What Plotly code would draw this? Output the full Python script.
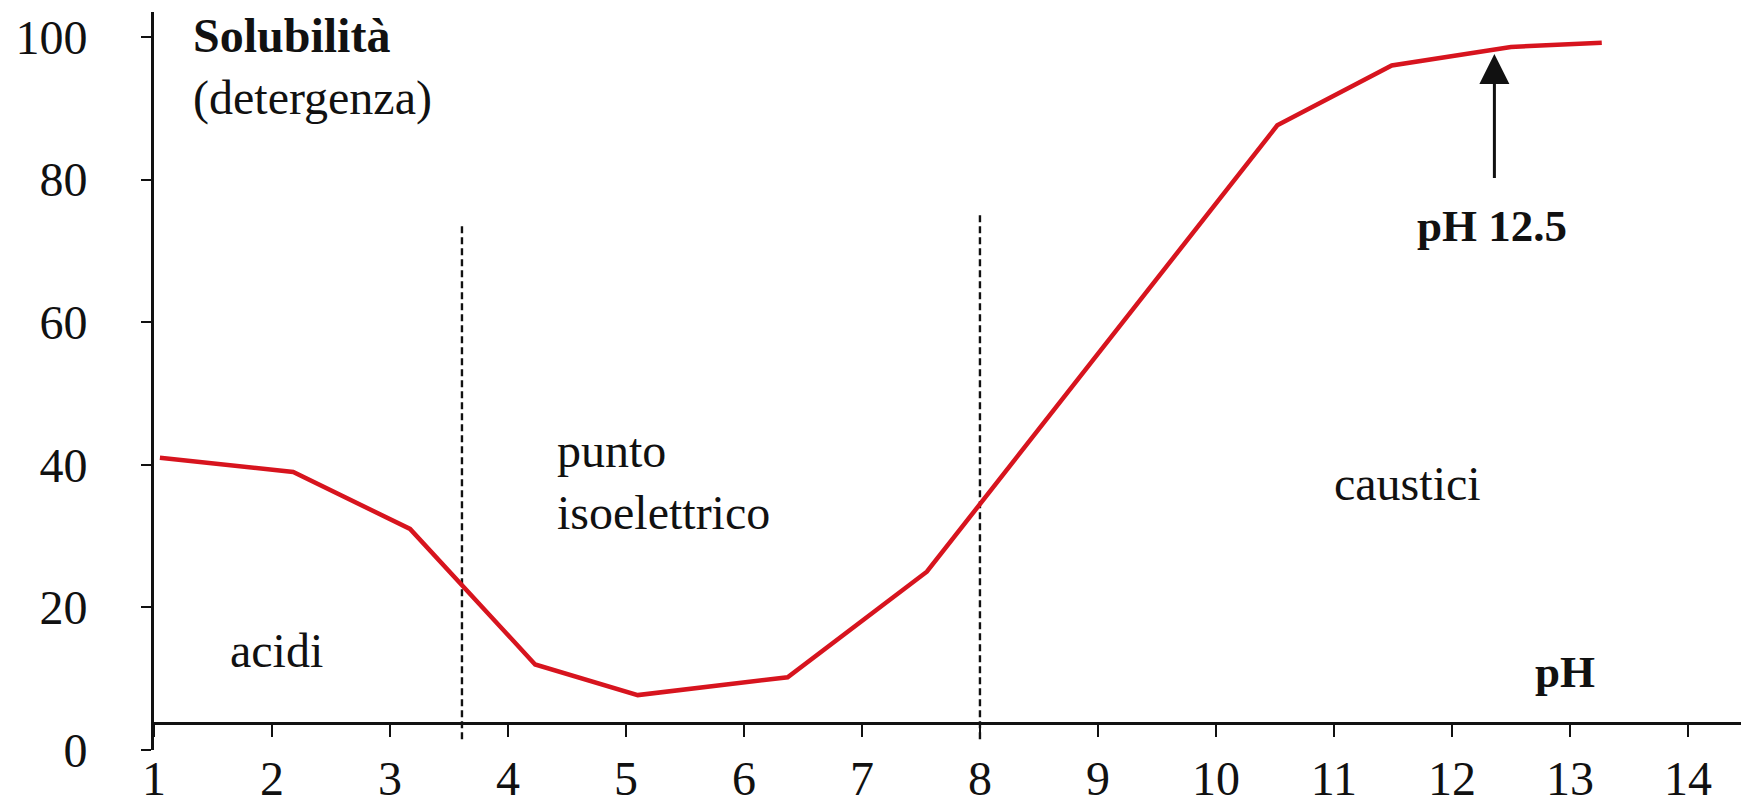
import plotly.graph_objects as go

# ---- data ----
ph = [1.05, 2.18, 3.17, 4.23, 5.10, 6.37, 7.55, 10.52, 11.49, 12.50, 13.27]
solubilita = [41.0, 39.0, 31.0, 12.0, 7.7, 10.2, 25.0, 87.6, 96.0, 98.6, 99.2]

x_ticks = list(range(1, 15))
y_ticks = [0, 20, 40, 60, 80, 100]

boundary_ph = [3.61, 8.0]
boundary_top = [74.0, 75.4]
boundary_bottom = 1.5

region_text = ["acidi", "punto<br>isoelettrico", "caustici"]
region_x = [2.04, 4.40, 11.62]
region_y = [14.0, 37.6, 37.4]
region_anchor = ["center", "left", "center"]

arrow_ph = 12.36
arrow_tip = 97.6
arrow_tail = 80.0
arrow_label = "pH 12.5"
arrow_label_y = 73.5

FONT = "Liberation Serif, Times New Roman, serif"
INK = "#111111"
RED = "#d7141e"

fig = go.Figure()

# dashed region boundaries
for bx, bt in zip(boundary_ph, boundary_top):
    fig.add_trace(go.Scatter(
        x=[bx, bx], y=[boundary_bottom, bt], mode="lines",
        line=dict(color=INK, width=2.4, dash="7px,4px"),
        hoverinfo="skip", showlegend=False))

# solubility curve
fig.add_trace(go.Scatter(
    x=ph, y=solubilita, mode="lines",
    line=dict(color=RED, width=4.5),
    name="Solubilità", showlegend=False))

ann = []
ann.append(dict(x=1.31, y=95.8, xref="x", yref="y",
                text="<b>Solubilità</b><br>(detergenza)",
                showarrow=False, xanchor="left", yanchor="middle", align="left",
                font=dict(family=FONT, size=48, color=INK)))
for t, xx, yy, anc in zip(region_text, region_x, region_y, region_anchor):
    ann.append(dict(x=xx, y=yy, xref="x", yref="y", text=t, showarrow=False,
                    xanchor=anc, yanchor="middle", align="left",
                    font=dict(family=FONT, size=48, color=INK)))
ann.append(dict(x=12.96, y=11.0, xref="x", yref="y", text="<b>pH</b>",
                showarrow=False, xanchor="center", yanchor="middle",
                font=dict(family=FONT, size=45, color=INK)))
ann.append(dict(x=12.34, y=arrow_label_y, xref="x", yref="y",
                text="<b>" + arrow_label + "</b>",
                showarrow=False, xanchor="center", yanchor="middle",
                font=dict(family=FONT, size=45, color=INK)))
ann.append(dict(x=arrow_ph, y=arrow_tip, xref="x", yref="y",
                ax=arrow_ph, ay=arrow_tail, axref="x", ayref="y",
                text="", showarrow=True, arrowhead=2, arrowsize=2,
                arrowwidth=3, arrowcolor=INK, standoff=0))

fig.update_layout(
    width=1746, height=796,
    margin=dict(l=146, r=13, t=4, b=54, autoexpand=False),
    paper_bgcolor="white", plot_bgcolor="white",
    annotations=ann,
    xaxis=dict(range=[1, 14.45], tickvals=x_ticks, ticktext=[str(v) for v in x_ticks],
               showgrid=False, zeroline=False, showline=True, linecolor=INK,
               linewidth=3, ticks="outside", ticklen=12, tickwidth=2, tickcolor=INK,
               anchor="free", position=0.0366, automargin=False,
               ticklabelstandoff=0,
               tickfont=dict(family=FONT, size=48, color=INK)),
    yaxis=dict(range=[0, 103.5], tickvals=y_ticks, showgrid=False, zeroline=False,
               showline=True, linecolor=INK, linewidth=3, ticks="outside",
               ticklen=10, tickwidth=2, tickcolor=INK, ticklabelstandoff=44,
               automargin=False,
               tickfont=dict(family=FONT, size=48, color=INK)),
)

fig.write_html("out.html")
